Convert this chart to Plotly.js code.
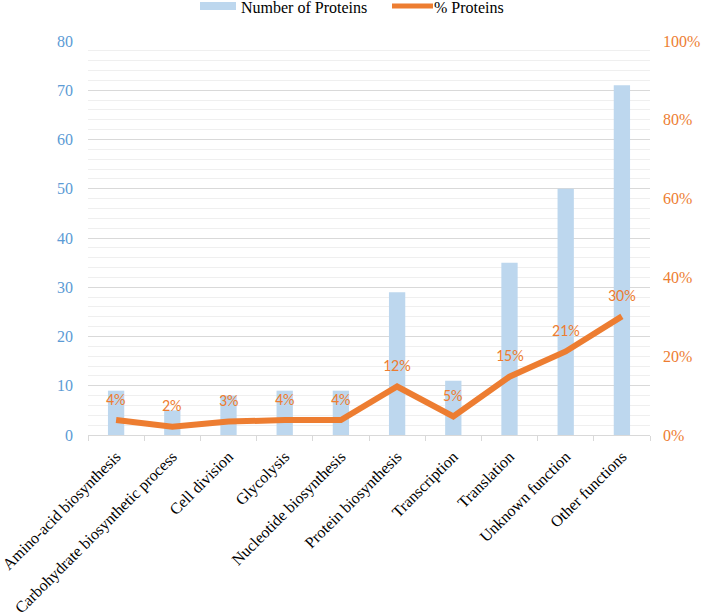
<!DOCTYPE html>
<html>
<head>
<meta charset="utf-8">
<script src="https://cdn.plot.ly/plotly-3.0.1.min.js"></script>
<style>html,body{margin:0;padding:0;background:#fff;}#chart{width:701px;height:616px;}</style>
</head>
<body>
<div id="chart"></div>
<script>
const categories = ["Amino-acid biosynthesis","Carbohydrate biosynthetic process","Cell division","Glycolysis","Nucleotide biosynthesis","Protein biosynthesis","Transcription","Translation","Unknown function","Other functions"];
const numberOfProteins = [9, 5, 8, 9, 9, 29, 11, 35, 50, 71];
const percentProteins = [0.038, 0.021, 0.034, 0.038, 0.038, 0.123, 0.047, 0.148, 0.212, 0.301];
const percentLabels = ["4%","2%","3%","4%","4%","12%","5%","15%","21%","30%"];
const seriesNames = ["Number of Proteins", "% Proteins"];

const blue = "#BDD7EE", orange = "#ED7D31", tickBlue = "#5B9BD5";
const serif = "Liberation Serif, Times New Roman, serif";
const sans = "Carlito, Open Sans, Liberation Sans, sans-serif";

const traces = [
  {type:"bar", name:seriesNames[0], x:categories, y:numberOfProteins,
   marker:{color:blue}, width:0.29, yaxis:"y"},
  {type:"scatter", mode:"lines", name:seriesNames[1], x:categories, y:percentProteins,
   line:{color:orange, width:6}, yaxis:"y2"}
];

const W = 701, H = 616, M = {l:88, r:51, t:41, b:181};
const pw = W - M.l - M.r, ph = H - M.t - M.b;
const px = v => (v - M.l) / pw;
const py = v => (H - M.b - v) / ph;

const annotations = categories.map((c,i)=>({
  x:c, y:percentProteins[i], xref:"x", yref:"y2", text:percentLabels[i],
  showarrow:false, yshift:21, font:{family:sans, size:16, color:orange}
}));
annotations.push(
  {xref:"paper", yref:"paper", x:px(239), y:py(7), xanchor:"left", yanchor:"middle", showarrow:false,
   text:seriesNames[0], font:{family:serif, size:16, color:"#000"}},
  {xref:"paper", yref:"paper", x:px(432), y:py(7), xanchor:"left", yanchor:"middle", showarrow:false,
   text:seriesNames[1], font:{family:serif, size:16, color:"#000"}}
);

const shapes = [
  {type:"rect", xref:"paper", yref:"paper", x0:px(200), x1:px(236), y0:py(10), y1:py(2),
   fillcolor:blue, line:{width:0}},
  {type:"line", xref:"paper", yref:"paper", x0:px(392), x1:px(433), y0:py(6), y1:py(6),
   line:{color:orange, width:5}}
];

const layout = {
  width:W, height:H,
  margin:{l:M.l, r:M.r, t:M.t, b:M.b, autoexpand:false},
  paper_bgcolor:"#fff", plot_bgcolor:"#fff",
  showlegend:false,
  xaxis:{type:"category", tickangle:-45, tickfont:{family:serif, size:16, color:"#000"},
         showline:true, linecolor:"#d9d9d9", linewidth:1, ticks:"outside", tickson:"boundaries",
         ticklen:5, tickcolor:"#d9d9d9", showgrid:false, zeroline:false, ticklabelstandoff:5},
  yaxis:{range:[0,80], dtick:10, tickfont:{family:serif, size:16, color:tickBlue},
         showgrid:true, gridcolor:"#d9d9d9", gridwidth:1, zeroline:false, showline:false,
         ticks:"", ticklen:0, ticklabelstandoff:14,
         minor:{dtick:2, showgrid:true, gridcolor:"#efefef", gridwidth:1}},
  yaxis2:{range:[0,1], dtick:0.2, tickformat:".0%", overlaying:"y", side:"right",
          tickfont:{family:serif, size:16, color:orange}, showgrid:false, zeroline:false,
          showline:false, ticklabelstandoff:12},
  annotations:annotations,
  shapes:shapes
};

Plotly.newPlot("chart", traces, layout, {displayModeBar:false, staticPlot:true});
</script>
</body>
</html>
